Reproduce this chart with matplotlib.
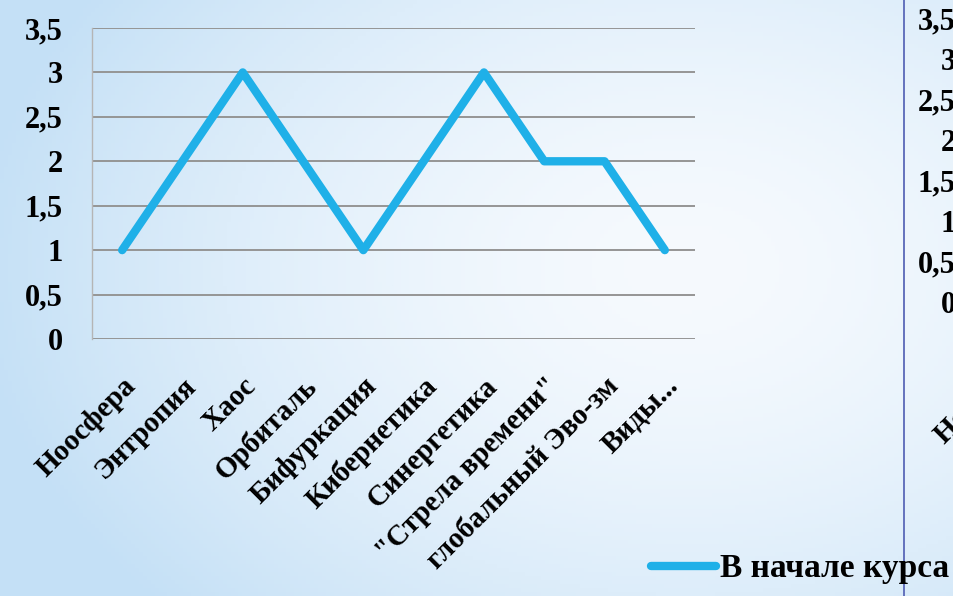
import numpy as np
import matplotlib
matplotlib.use("Agg")
from matplotlib import pyplot as plt
from matplotlib.lines import Line2D

plt.rcParams['font.family'] = ['Liberation Serif', 'DejaVu Serif']
plt.rcParams['font.weight'] = 'bold'

# Термины и оценки
terms = ['Ноосфера', 'Энтропия', 'Хаос', 'Орбиталь', 'Бифуркация', 'Кибернетика',
         'Синергетика', '"Стрела времени"', 'глобальный Эво-зм', 'Виды...']
scores_start = [1, 2, 3, 2, 1, 2, 3, 2, 2, 1]
y_ticks = [0, 0.5, 1, 1.5, 2, 2.5, 3, 3.5]
y_labels = ['0', '0,5', '1', '1,5', '2', '2,5', '3', '3,5']
series_name = 'В начале курса'

W, H = 954, 596
fig = plt.figure(figsize=(W / 100, H / 100), dpi=100)

# фон слайда: светлый центр, голубые края
bg = fig.add_axes([0, 0, 1, 1], zorder=-10)
gx, gy = np.meshgrid(np.linspace(0, 1, 240), np.linspace(0, 1, 150))
d = np.sqrt(((gx - 0.72) / 0.75) ** 2 + ((gy - 0.45) / 0.85) ** 2)
d = np.clip(d, 0, 1) ** 1.6
c_in = np.array([246, 250, 254]) / 255
c_out = np.array([196, 224, 246]) / 255
img = c_in[None, None, :] * (1 - d[..., None]) + c_out[None, None, :] * d[..., None]
bg.imshow(img, aspect='auto', extent=[0, 1, 0, 1], origin='upper')
bg.axis('off')


def setup_axes(a, xpad, ypad):
    a.patch.set_alpha(0)
    a.set_xlim(-0.5, len(terms) - 0.5)
    a.set_ylim(0, 3.5)
    a.set_yticks(y_ticks)
    a.set_yticklabels(y_labels, fontsize=22, fontweight='bold')
    a.set_xticks(np.arange(len(terms)))
    a.set_xticklabels(terms, fontsize=21, fontweight='bold', rotation=45,
                      ha='right', va='top', rotation_mode='anchor')
    a.tick_params(axis='y', length=0, pad=ypad)
    a.tick_params(axis='x', length=0, pad=xpad)


ax = fig.add_axes([92 / W, 1 - 339 / H, 603 / W, 311 / H])
setup_axes(ax, xpad=24, ypad=21)
x = np.arange(len(terms))
line, = ax.plot(x, scores_start, color='#1fb0e8', lw=6, solid_capstyle='round',
                solid_joinstyle='round', label=series_name)
ax.grid(axis='y', color='#959595', lw=1.4)
ax.set_axisbelow(True)
for s in ['top', 'right', 'bottom']:
    ax.spines[s].set_visible(False)
ax.spines['left'].set_color('#b5b5b5')
ax.spines['left'].set_linewidth(1.0)

# вторая диаграмма справа (видна только часть подписей)
ax2 = fig.add_axes([985 / W, 1 - 302 / H, 700 / W, 284 / H])
setup_axes(ax2, xpad=27, ypad=21)
for s in ax2.spines.values():
    s.set_visible(False)

# рамка второго объекта
fig.add_artist(Line2D([904 / W, 904 / W], [0, 1], color='#5a68b8', lw=1.3))

fig.legend(handles=[line], loc='center left', bbox_to_anchor=(651 / W, 1 - 569 / H),
           frameon=False, fontsize=24, handlelength=1.95, handletextpad=0.12,
           borderpad=0, borderaxespad=0)

fig.savefig('out.png', dpi=100)
